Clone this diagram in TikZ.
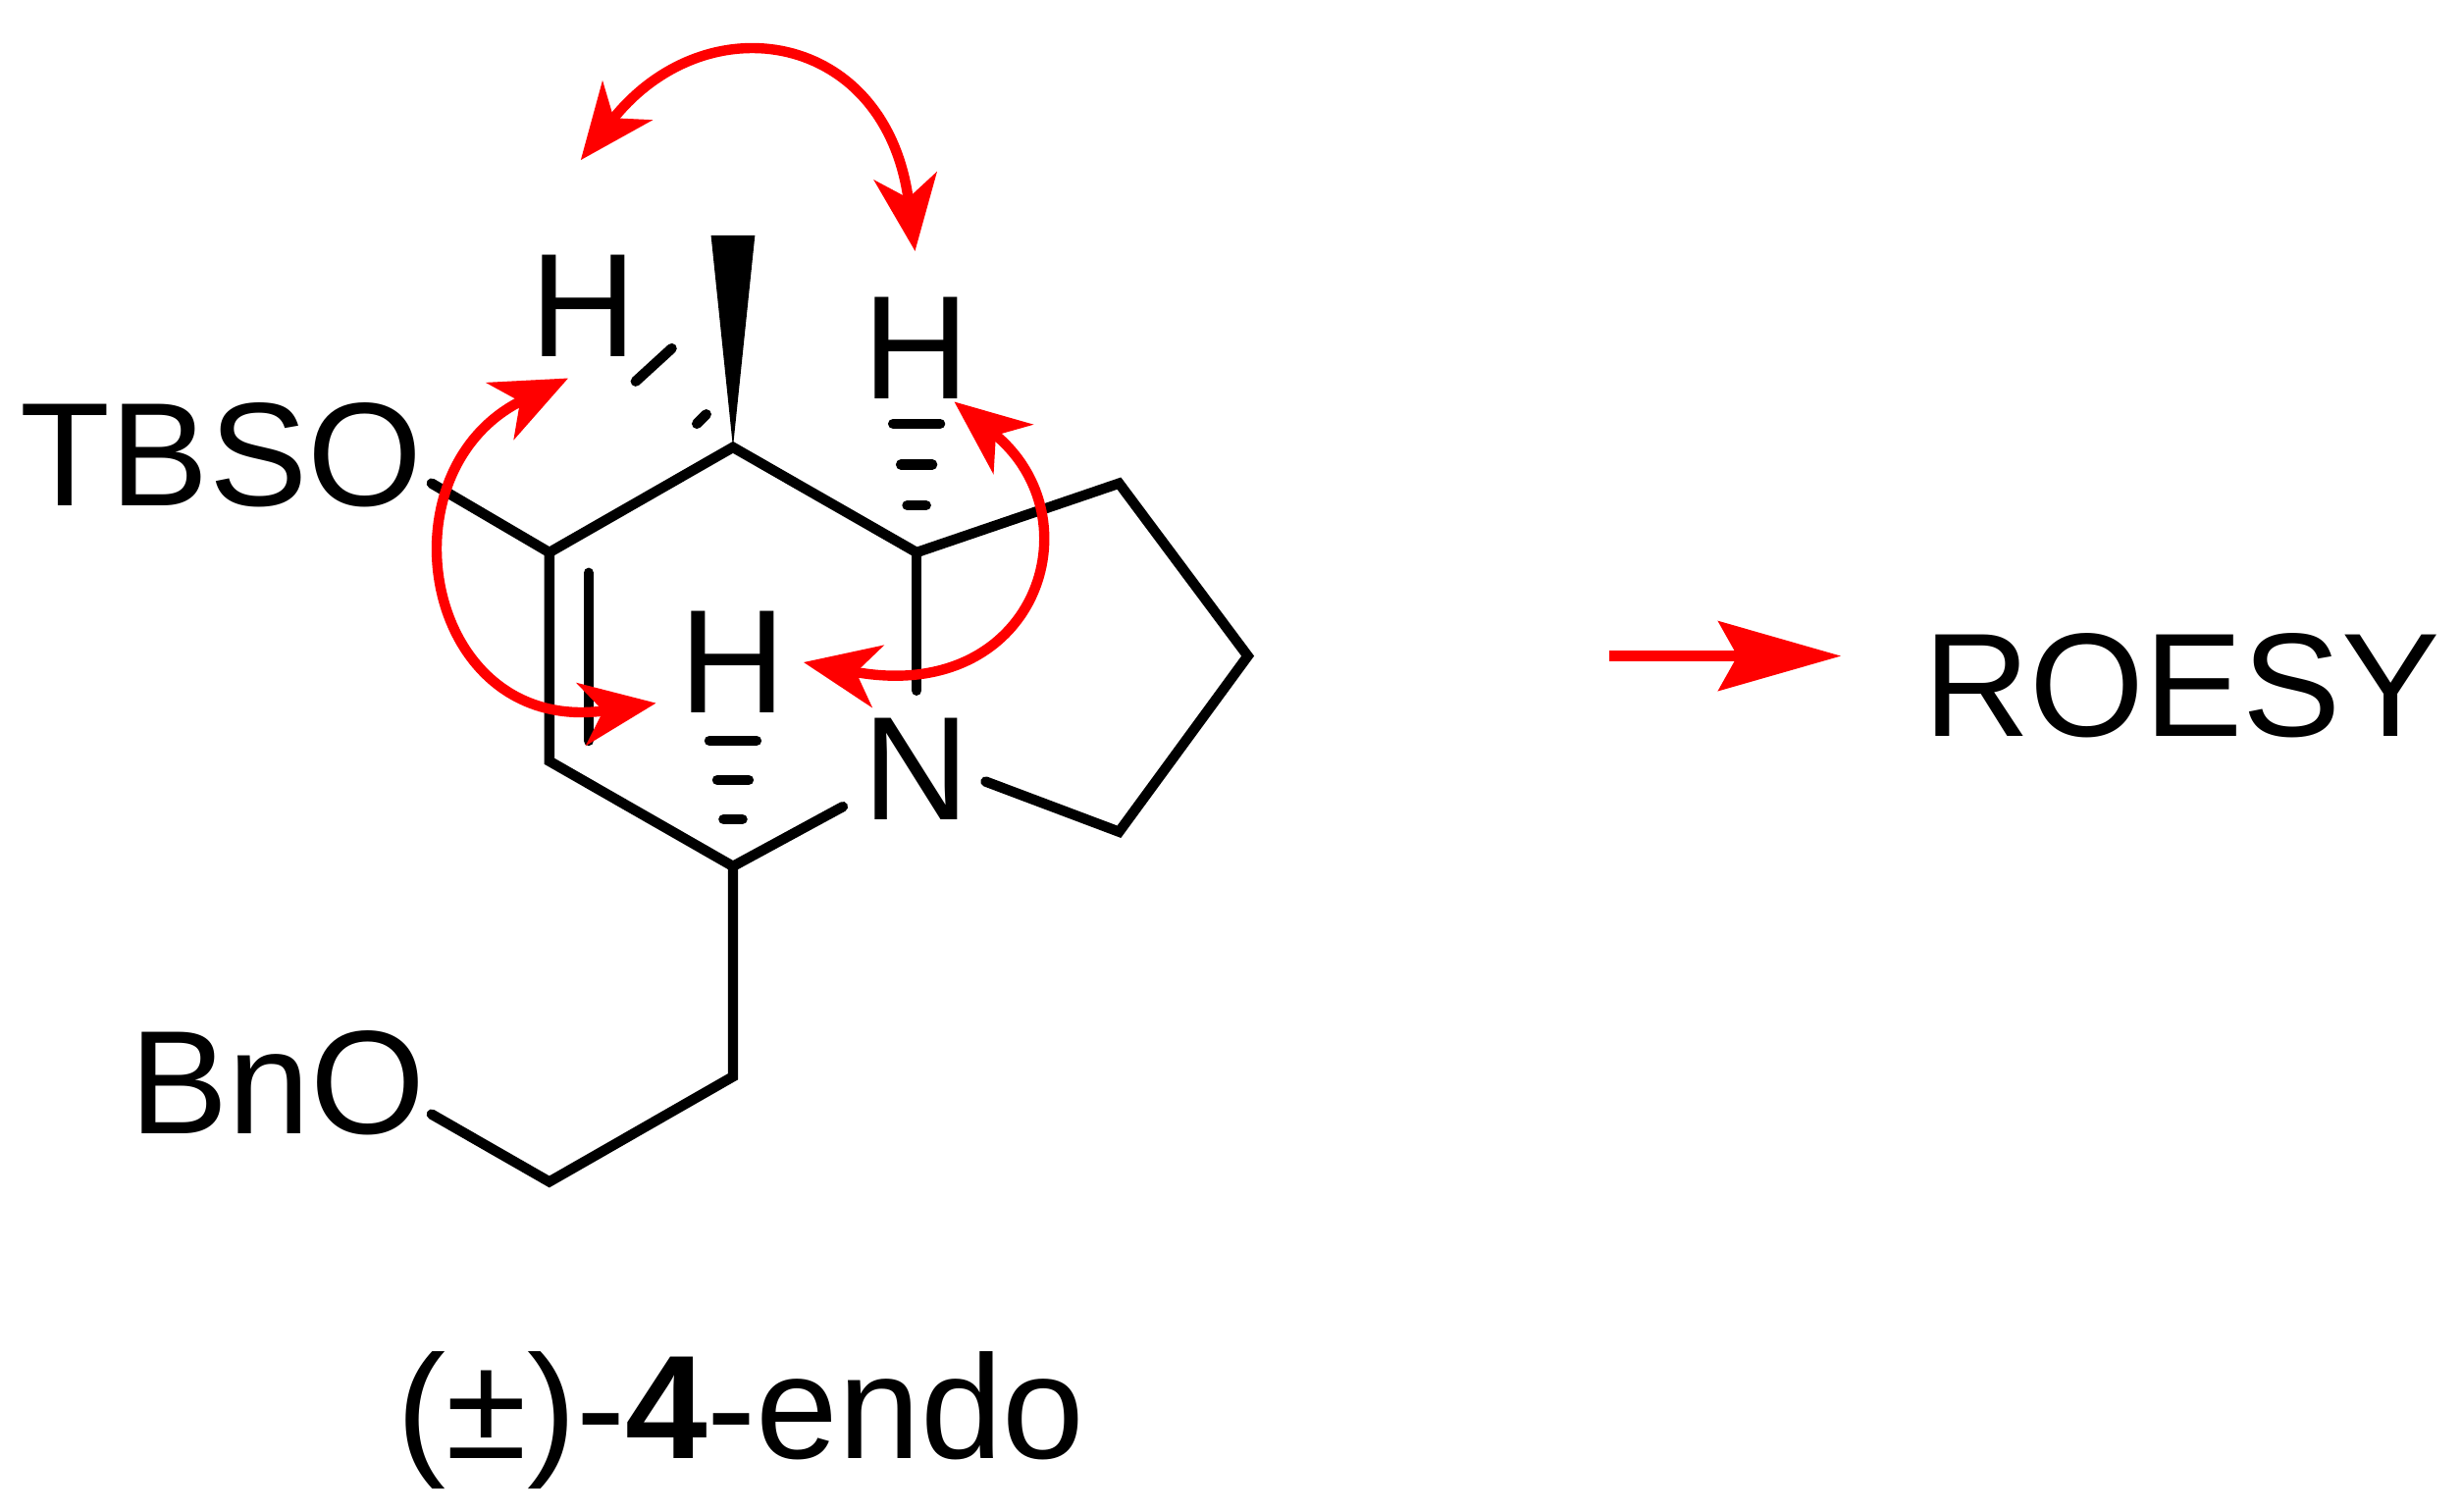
\documentclass[tikz,border=0pt]{standalone}
\usepackage{fontspec}
\setmainfont{Liberation Sans}
\usetikzlibrary{arrows.meta}
\begin{document}
\begin{tikzpicture}[x=1pt,y=-1pt,
 bond/.style={line width=6.5pt,line cap=round},
 roe/.style={red,line width=6.5pt,{Stealth[length=48pt,width=40pt,inset=14pt]}-{Stealth[length=48pt,width=40pt,inset=14pt]}},
 lab/.style={font=\fontsize{94}{100}\selectfont,inner sep=0pt}]
\useasboundingbox (0,0) rectangle (1568,963);
\coordinate (C1) at (467,285); \coordinate (C2) at (350,352); \coordinate (C3) at (584,352);
\coordinate (C4) at (350,485); \coordinate (C5) at (467,552);
\coordinate (P1) at (713,308); \coordinate (P2) at (795,418); \coordinate (P3) at (713,530);
\coordinate (E1) at (467,686); \coordinate (E2) at (350,753);
\node[lab] (tbso) at (141,290) {TBSO};
\node[lab] (bno) at (177,690) {BnO};
\node[lab] (N) at (584,490) {N};
\node[lab] (H1) at (372,195) {H};
\node[lab] (H2) at (584,222) {H};
\node[lab] (H3) at (467,422) {H};
\draw[bond] (275,308) -- (C2) -- (C1) -- (C3) -- (P1) -- (P2) -- (P3) -- (628,498);
\draw[bond] (C2) -- (C4) -- (C5) -- (537,514);
\draw[bond] (375,365) -- (375,472);
\draw[bond] (C3) -- (584,440);
\draw[bond] (C5) -- (E1) -- (E2) -- (275,710);
\fill (C1) -- (453,150) -- (481,150) -- cycle;
% hashes
\draw[bond] (444,270) -- (450,264);
\draw[bond] (405,243) -- (428,222);
\draw[bond] (578,322) -- (590,322); \draw[bond] (574,296) -- (594,296); \draw[bond] (569,270) -- (599,270);
\draw[bond] (461,522) -- (473,522); \draw[bond] (457,497) -- (477,497); \draw[bond] (452,472) -- (482,472);
% ROESY arrows
\draw[roe] (370,102) .. controls (450,0) and (565,20) .. (583,160);
\draw[roe] (362,241) .. controls (240,300) and (270,470) .. (418,448);
\draw[roe] (608,256) .. controls (700,330) and (660,450) .. (512,422);
\draw[red,line width=6.5pt,-{Stealth[length=78pt,width=44pt,inset=12pt]}] (1025,418) -- (1173,418);
\node[lab] (roesy) at (1390,437) {ROESY};
\node[lab] (cap) at (472,905) {(±)-\textbf{4}-endo};
\end{tikzpicture}
\end{document}
